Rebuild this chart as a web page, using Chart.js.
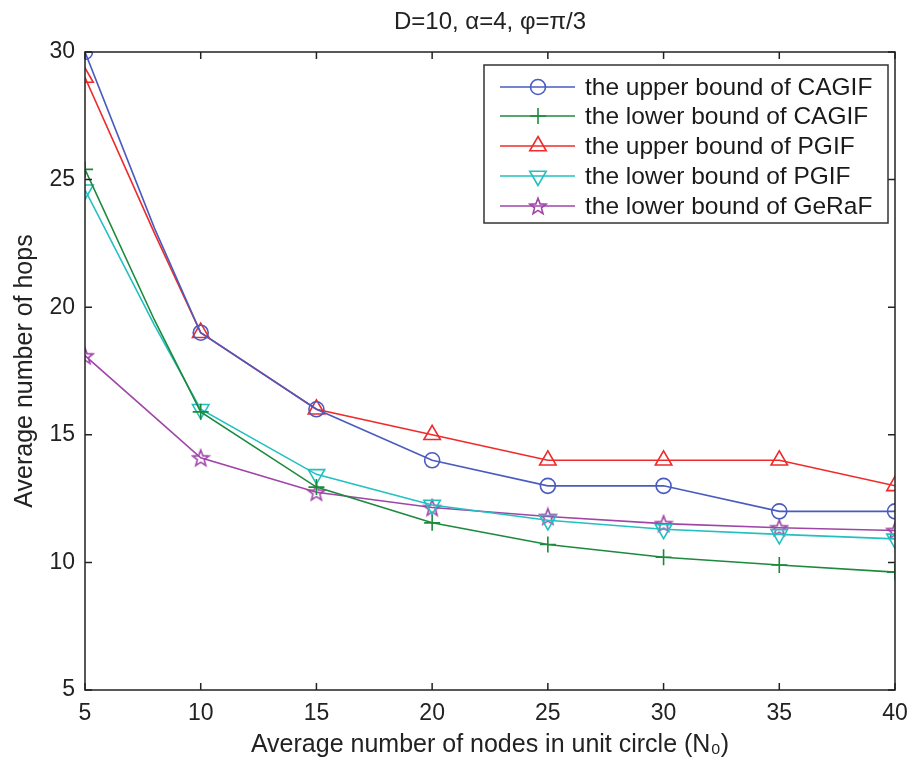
<!DOCTYPE html>
<html>
<head>
<meta charset="utf-8">
<script src="https://cdn.jsdelivr.net/npm/chart.js@4/dist/chart.umd.min.js"></script>
<style>
html,body{margin:0;padding:0;background:#fff;}
canvas{display:block;}
</style>
</head>
<body>
<canvas id="c" width="913" height="769"></canvas>
<script>
const titleText = 'D=10, \u03B1=4, \u03C6=\u03C0/3';
const xAxisTitle = 'Average number of nodes in unit circle (N\u2080)';
const yAxisTitle = 'Average number of hops';
const xValues   = [5, 8, 10, 15, 20, 25, 30, 35, 40];
const upperCAGIF = [30, 23.1, 19, 16, 14, 13, 13, 12, 12];
const lowerCAGIF = [25.4, 19.5, 15.9, 12.95, 11.55, 10.7, 10.2, 9.9, 9.62];
const upperPGIF  = [29, 22.9, 19, 16, 15, 14, 14, 14, 13];
const lowerPGIF  = [24.6, 19.3, 16.0, 13.45, 12.25, 11.65, 11.3, 11.1, 10.92];
const lowerGeRaF = [18.1, 15.7, 14.1, 12.75, 12.15, 11.8, 11.52, 11.36, 11.25];
const seriesNames = ['the upper bound of CAGIF','the lower bound of CAGIF','the upper bound of PGIF','the lower bound of PGIF','the lower bound of GeRaF'];
const xTicks = [5, 10, 15, 20, 25, 30, 35, 40];
const yTicks = [5, 10, 15, 20, 25, 30];

const FONT = '"Liberation Sans", Arial, sans-serif';
const colBlue = '#4a5bc0', colGreen = '#1c8a3c', colRed = '#f02a2a', colCyan = '#22c0c0', colMag = '#a045a8';

function makeStar(color){
  const s = 20, c = document.createElement('canvas');
  c.width = s; c.height = s;
  const g = c.getContext('2d');
  g.strokeStyle = color; g.lineWidth = 1.6;
  g.beginPath();
  const R = 8.5, r = 3.6, cx = s/2, cy = s/2 + 0.8;
  for (let i = 0; i < 10; i++){
    const a = -Math.PI/2 + i*Math.PI/5;
    const rr = i % 2 === 0 ? R : r;
    const px = cx + rr*Math.cos(a), py = cy + rr*Math.sin(a);
    if (i === 0) g.moveTo(px, py); else g.lineTo(px, py);
  }
  g.closePath(); g.stroke();
  return c;
}
const starImg = makeStar(colMag);

function pts(vals){ return xValues.map((x,i)=>({x:x, y:vals[i]})); }
const markR = (r) => (ctx) => (ctx.raw && ctx.raw.x % 5 === 0 ? r : 0);
const radii = [7.5, 8, 9.5, 9.5, 8];

const datasets = [
  {label:seriesNames[0], data:pts(upperCAGIF), borderColor:colBlue, pointStyle:'circle', rot:0},
  {label:seriesNames[1], data:pts(lowerCAGIF), borderColor:colGreen, pointStyle:'cross', rot:0},
  {label:seriesNames[2], data:pts(upperPGIF), borderColor:colRed, pointStyle:'triangle', rot:0},
  {label:seriesNames[3], data:pts(lowerPGIF), borderColor:colCyan, pointStyle:'triangle', pointRotation:180, rot:180},
  {label:seriesNames[4], data:pts(lowerGeRaF), borderColor:colMag, pointStyle:starImg, rot:0}
].map((d, i) => Object.assign({
  borderWidth:1.6, pointBorderWidth:1.6, pointBackgroundColor:'rgba(0,0,0,0)',
  pointBorderColor:d.borderColor, fill:false, tension:0, pointHoverRadius:0,
  pointRadius:markR(radii[i])
}, d));

const boxPlugin = {
  id:'boxPlugin',
  afterDraw(chart){
    const g = chart.ctx, a = chart.chartArea, xs = chart.scales.x, ys = chart.scales.y;
    g.save();
    g.strokeStyle = '#222'; g.lineWidth = 1.5;
    g.strokeRect(a.left, a.top, a.right - a.left, a.bottom - a.top);
    const L = 7;
    g.beginPath();
    xTicks.forEach(v => {
      const px = xs.getPixelForValue(v);
      g.moveTo(px, a.bottom); g.lineTo(px, a.bottom - L);
      g.moveTo(px, a.top); g.lineTo(px, a.top + L);
    });
    yTicks.forEach(v => {
      const py = ys.getPixelForValue(v);
      g.moveTo(a.left, py); g.lineTo(a.left + L, py);
      g.moveTo(a.right, py); g.lineTo(a.right - L, py);
    });
    g.stroke();
    // title
    g.fillStyle = '#222';
    g.font = '24px ' + FONT;
    g.textAlign = 'center'; g.textBaseline = 'middle';
    g.fillText(titleText, (a.left + a.right)/2, 22);
    // legend
    const lx = 484, ly = 65, lw = 404, lh = 158;
    g.fillStyle = '#fff';
    g.fillRect(lx, ly, lw, lh);
    g.strokeStyle = '#333'; g.lineWidth = 1.5;
    g.strokeRect(lx, ly, lw, lh);
    const rowY = [87, 116, 146, 176, 206];
    g.font = '24.5px ' + FONT;
    g.textAlign = 'left'; g.textBaseline = 'middle';
    chart.data.datasets.forEach((d, i) => {
      const y = rowY[i];
      g.strokeStyle = d.borderColor; g.lineWidth = 1.6;
      g.beginPath(); g.moveTo(500, y); g.lineTo(575, y); g.stroke();
      g.fillStyle = 'rgba(0,0,0,0)';
      g.strokeStyle = d.borderColor; g.lineWidth = 1.6;
      Chart.helpers.drawPoint(g, {pointStyle:d.pointStyle, rotation:d.rot, radius:radii[i], borderWidth:1.6}, 538, y);
      g.fillStyle = '#1a1a1a';
      g.fillText(d.label, 585, y + 1);
    });
    g.restore();
  }
};

new Chart(document.getElementById('c'), {
  type:'line',
  data:{datasets:datasets},
  options:{
    responsive:false, animation:false, devicePixelRatio:1,
    layout:{padding:{top:52, right:18, left:0, bottom:0}},
    plugins:{legend:{display:false}, title:{display:false}, tooltip:{enabled:false}},
    scales:{
      x:{type:'linear', min:5, max:40,
        afterBuildTicks:(s)=>{ s.ticks = xTicks.map(v=>({value:v})); },
        grid:{display:false, drawTicks:false}, border:{display:false},
        ticks:{font:{family:FONT, size:23}, color:'#222', padding:10, maxRotation:0},
        title:{display:true, text:xAxisTitle, font:{family:FONT, size:25}, color:'#222', padding:{top:2, bottom:9}},
        afterFit:(s)=>{ s.height = 79; s.paddingLeft = 0; s.paddingRight = 0; }
      },
      y:{type:'linear', min:5, max:30,
        afterBuildTicks:(s)=>{ s.ticks = yTicks.map(v=>({value:v})); },
        grid:{display:false, drawTicks:false}, border:{display:false},
        ticks:{font:{family:FONT, size:23}, color:'#222', padding:10},
        title:{display:true, text:yAxisTitle, font:{family:FONT, size:25}, color:'#222', padding:{top:10, bottom:4}},
        afterFit:(s)=>{ s.width = 85; s.paddingTop = 0; s.paddingBottom = 0; }
      }
    }
  },
  plugins:[boxPlugin]
});
</script>
</body>
</html>
